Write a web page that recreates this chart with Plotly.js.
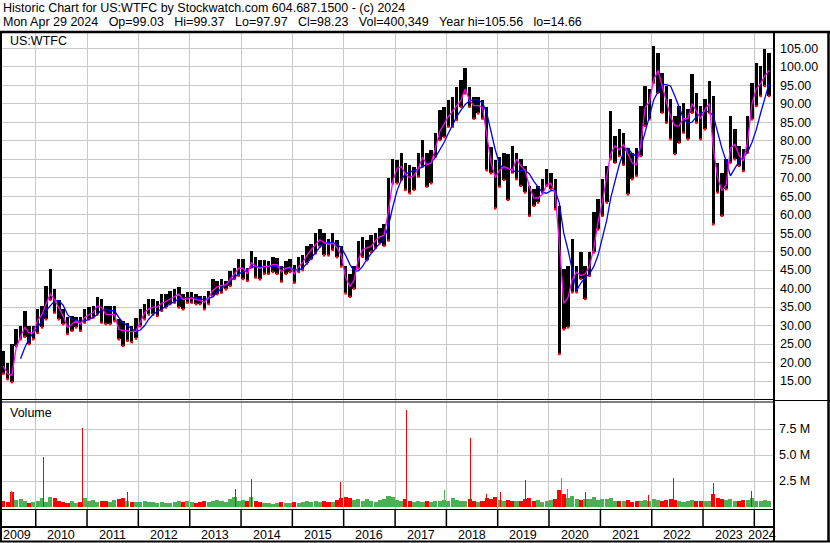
<!DOCTYPE html>
<html><head><meta charset="utf-8">
<script src="https://cdn.plot.ly/plotly-3.0.1.min.js"></script>
<style>html,body{margin:0;padding:0;background:#fff;}#chart{width:830px;height:543px;}</style>
</head><body><div id="chart"></div>
<script>
// ---- data (monthly, May 2009 .. Apr 2024) ----
const firstYear = 2009, firstMonth = 5;
const priceHigh = [23,20,25,29,30,34,30,30,
 34.4,35.3,40.7,45.2,40,37,34.4,32.2,32.6,32.2,32.2,34.4,
 34.9,35.3,37.6,37.1,35.3,35.3,35.3,31.7,31.2,30.8,30,32,
 34.5,35.8,37.1,37.1,36.7,38.5,38.5,39.4,39.8,40.3,38.5,39,
 39,38.5,38,38,39.4,42.6,42.1,42.6,42.1,44.8,45.7,48,
 48,45.7,50.2,48.6,47.7,47.7,47.5,48.5,48.2,46,47.5,48,
 46.5,48.6,49,51.5,52,55,56,55,53.5,55,53.2,51.4,
 46,44,46,53,54,53.2,54.5,55,56.3,57.5,70,75,
 74.8,76.6,73.9,73.4,73,76.6,80.2,76.6,77.5,82,88.3,89.2,
 91,91.9,94.6,96.4,99.8,94.6,91.9,91.9,91,89.2,78.4,74.8,
 75.7,76.6,76.4,78.6,76.8,75,73.2,67.8,66.9,67.8,69.6,72.3,
 71.4,69.6,62.4,45.3,46.2,53.4,46.2,49.8,46.2,49.8,60.6,64.2,
 69.6,73.2,88,81.3,83.1,82,78,76.8,78,89.4,94.8,93.9,
 105.6,103.8,98.4,94.8,91.2,86.7,89.4,90.3,88.5,98,93,89.4,
 91.2,96.2,92,74.1,71.4,75,86.7,83.1,78.6,77.7,86.7,95.7,
 101.1,100.2,104.7,103.8];
const priceLow = [17,15.5,14.7,24.5,26.3,27,25,26.3,
 28,29.5,31.7,37,33.5,31.7,30.4,27.7,28.6,29.5,28.6,30.8,
 31.7,32.2,33,30.8,30.4,30.4,31.2,26.3,24.5,25.9,25.5,26.5,
 29.8,31.7,33,33,32.6,34,34.9,35.8,36.2,34.9,34.4,36.2,
 36.2,35.8,35.8,34.4,35.8,38,38.5,38.9,39.8,40.7,42.6,43.5,
 42.6,42.1,45.7,43,42.5,44,44,44.5,44,41.9,44,44.5,
 41.6,44.5,45,46.8,48,49.5,51.4,49,49,50.5,48.5,46,
 38.7,37.8,40,45.5,48.6,47.7,50,51,52.3,51.6,53,68.5,
 68.5,69.4,66.7,65.8,66.7,70.3,73,67.6,68.5,75.7,80.2,81,
 83.8,83.8,85.6,89.2,92.8,89.2,86,87.4,86,72,71.2,61.7,
 67.6,69.4,64,71.4,69.6,67.8,66,59.7,62.4,63.3,66,67.8,
 66.9,61.5,22.3,29,29.5,39,39,42.6,37.2,43.5,49.8,56,
 59.7,63.3,75,74.1,75.9,73.5,65.5,69.6,70.5,75.9,84,85.8,
 95.7,93,87.6,84.9,80.4,76.4,79.5,82.2,80.4,87.6,84.9,80.4,
 83.1,87.6,57.4,66,59.7,66.9,74.1,75,73.2,71.8,76.8,85.8,
 89.4,92.1,94.8,92.1];
const maShort = [19,17,16.5,24,27,29.5,28,28,
 31.5,33,35.8,38.5,37,34.9,32.6,29.5,30.4,31.2,30.4,32.2,
 33,33.5,35.3,34.9,33,33,33,29,28.6,28.6,28.3,28.5,
 31.2,33.5,34.5,35,35,36,36.5,37.2,38,38.5,37,37.2,
 37.5,37,36.8,36.3,37.5,39.5,40.5,40.8,41,42.5,44,45.5,
 45.5,44,47,46,45.5,46,46,46.5,46.5,44.5,45.5,45.8,
 44,46,47,49,50.5,52,53.2,52.5,52,52.3,51,49,
 43,40.5,42.3,48,50.5,51,51.4,53,54,54.5,61,69,
 72.5,73,71,70,70.5,72.5,75.5,73.5,74,78,82.5,84.5,
 86.5,88,89.5,91,94,91,89.5,89.5,89,82,74,70,
 72,73,72.5,72,75,73.2,72,67.5,64.5,64.5,65.5,68,
 68.5,65.5,52,36,37.5,42.5,44.4,43.5,44,46,51,58,
 63.5,70,76.5,78.6,77.5,79,76.5,74,73.5,79,89,90.5,
 96.5,99,95,91,86.5,84,84,86,86,90,88,86,
 88.5,90,78,70,66.5,68,78,79,76,74.5,80,90,
 94,95.5,97.5,99];
const maLong = [null,null,null,null,21,24,26.5,28,
 29.5,31.2,34,35.5,36.7,36.7,35.5,33,31.7,31.5,31,31.2,
 31.7,32.2,33,34.4,34.4,34,34,32.2,30.8,29.9,29,28.3,
 28.8,30,31.7,33,33.8,34.5,35.2,36,36.7,37.2,37.5,37.6,
 37.6,37.5,37.2,37,37.3,37.8,39,40,41,42,43,44,
 44.5,45.2,45.8,46,45.8,45.8,46,46,46,45.8,45.6,45.5,
 45.2,45,45.5,46.8,48.3,49.8,51.2,52.3,52.5,52.5,52,51,
 49,46.5,44.8,44.8,46,48,49.5,51,52.3,53.5,57,62,
 66.5,69.5,71,71.5,71.8,72.3,73,73.6,74.2,75.5,77.5,79.5,
 82,84.5,86.5,88.3,89.8,90.8,91.2,91,90.2,87.5,82.5,77.5,
 73.5,72.3,72.5,72,71.5,72,72,71,69,67.5,66,65.8,
 66.5,66.5,63,55,50.5,45,39.5,41.5,43,44,46,49,
 53.5,58.5,64.5,69.5,73.5,77,78,76.5,75.8,78,82,86.5,
 91,93.5,95.3,95.2,94.8,92,89,86,84.7,85,86.5,87.4,
 88,87.8,86.7,82,78,74.5,70.5,72.5,74.5,75.5,77,79.5,
 83,87.5,91.5,95.5];
// typical weekly volume per month, millions of shares
const volume = [0.6,0.5,1.4,0.7,0.8,0.6,0.4,0.5,
 0.6,0.9,0.5,1.0,0.9,0.6,0.5,0.4,0.6,0.4,0.5,0.9,
 0.6,0.7,0.5,0.6,0.6,0.5,0.7,0.8,0.9,0.6,0.5,0.5,
 0.5,0.6,0.5,0.5,0.4,0.5,0.4,0.4,0.5,0.6,0.5,0.6,
 0.5,0.4,0.5,0.6,0.5,0.6,0.7,0.6,0.5,0.8,1.0,0.6,
 0.7,0.6,1.0,0.6,0.5,0.4,0.4,0.3,0.4,0.5,0.4,0.4,
 0.5,0.4,0.5,0.6,0.5,0.6,0.5,0.6,0.5,0.5,0.7,0.9,
 1.0,0.9,0.7,0.8,0.6,0.8,0.6,0.5,0.7,0.8,1.1,1.0,
 0.7,0.6,0.8,0.6,0.5,0.6,0.5,0.6,0.5,0.6,0.6,0.7,
 0.6,0.9,0.7,0.6,0.6,0.8,0.6,0.5,0.6,0.9,0.8,1.0,
 0.7,0.6,0.7,0.6,0.6,0.6,0.8,0.9,0.6,0.7,0.5,0.6,
 0.7,0.8,1.6,1.3,0.9,1.1,0.8,0.7,0.8,0.8,1.0,0.7,
 0.8,0.8,0.9,0.6,0.6,0.6,0.7,0.5,0.6,0.6,0.7,0.6,
 0.8,0.7,0.6,0.7,0.8,0.7,0.6,0.5,0.6,0.7,0.6,0.6,
 0.6,0.6,1.3,0.9,0.8,0.7,0.8,0.6,0.6,0.7,0.7,0.9,
 0.6,0.6,0.7,0.6];
// single-week volume spikes
const spikeDates = ['2009-07-15','2010-02-24','2010-11-30','2011-10-17','2013-11-24','2014-03-17','2015-12-12',
 '2017-03-26','2017-12-18','2018-06-19','2018-10-15','2019-01-18','2019-07-15','2020-04-02','2020-05-15',
 '2020-09-15','2021-12-10','2022-06-06','2023-03-13','2023-12-15'];
const spikeVols = [1.5,4.8,7.6,1.4,1.7,2.7,2.4,9.3,1.6,6.6,1.3,1.4,2.6,2.8,1.7,1.45,1.2,2.8,2.3,1.5];
const spikeUp = [true,false,false,false,false,false,false,false,true,false,false,false,false,true,true,false,false,false,false,false];
const yearLabels = ['2009','2010','2011','2012','2013','2014','2015','2016','2017','2018','2019','2020','2021','2022','2023','2024'];
const priceTicks = [15,20,25,30,35,40,45,50,55,60,65,70,75,80,85,90,95,100,105];
const volTicks = [2.5,5,7.5];
const volTickText = ['2.5 M','5.0 M','7.5 M'];
const headLine1 = 'Historic Chart for US:WTFC by Stockwatch.com 604.687.1500 - (c) 2024';
const headLine2 = ['Mon Apr 29 2024','Op=99.03','Hi=99.37','Lo=97.97','Cl=98.23','Vol=400,349','Year hi=105.56','lo=14.66'];

// ---- build ----
const months = priceHigh.map((_, i) => {
  const t = firstMonth - 1 + i;
  const y = firstYear + Math.floor(t / 12), m = t % 12 + 1;
  return y + '-' + String(m).padStart(2, '0') + '-15';
});
const W = 830, H = 543, L = 2, R = 56, T = 33, B = 34;
const pw = W - L - R, ph = H - T - B;
const px = x => (x - L) / pw;
const py = y => (H - B - y) / ph;
const FONT = 'Liberation Sans, Arial, sans-serif';
const FS = 12.5;
const DAY = 86400000;

const traces = [
  {type:'bar', x:months, base:priceLow, y:priceHigh.map((h,i)=>h-priceLow[i]), width:25*DAY,
   marker:{color:'#000000', line:{width:0}}, xaxis:'x', yaxis:'y', hoverinfo:'skip'},
  {type:'scatter', mode:'markers', x:months, y:priceLow, marker:{color:'#ff0000', size:2.5, symbol:'square'},
   xaxis:'x', yaxis:'y', hoverinfo:'skip'},
  {type:'scatter', mode:'lines', x:months, y:maLong, line:{color:'#0000ff', width:1.3}, xaxis:'x', yaxis:'y', connectgaps:false},
  {type:'scatter', mode:'lines', x:months, y:maShort, line:{color:'#ff00ff', width:1.3}, xaxis:'x', yaxis:'y'},
  {type:'bar', x:months, y:volume, width:29*DAY,
   marker:{color:volume.map((v,i)=> (i>0 && maShort[i] >= maShort[i-1]) ? '#4cb050' : '#ff0000'), line:{width:0}},
   xaxis:'x', yaxis:'y2', hoverinfo:'skip'},
  {type:'bar', x:spikeDates, y:spikeVols, width:7*DAY,
   marker:{color:spikeUp.map(u => u ? '#4cb050' : '#ff0000'), line:{width:0}}, xaxis:'x', yaxis:'y2', hoverinfo:'skip'}
];

const yearStarts = yearLabels.map(y => y + '-01-01');
const ink = '#000000';
const shapes = [];
const hline = (x0, x1, y, w) => shapes.push({type:'line', xref:'paper', yref:'paper', x0:px(x0), x1:px(x1), y0:py(y), y1:py(y), line:{color:ink, width:w}});
const vline = (x, y0, y1, w) => shapes.push({type:'line', xref:'paper', yref:'paper', x0:px(x), x1:px(x), y0:py(y0), y1:py(y1), line:{color:ink, width:w}});
hline(0, 830, 32, 2.5);
hline(0, 830, 541.5, 2);
vline(1, 32, 542, 2);
vline(828.5, 32, 542, 2.5);
vline(774, 32, 542, 2);
hline(0, 774, 399.5, 1);
hline(0, 774, 402, 1);
hline(774, 830, 400.5, 1);
hline(0, 774, 509.5, 1);
hline(0, 774, 527, 2);
yearStarts.slice(1).forEach(d => shapes.push({type:'line', xref:'x', yref:'paper', x0:d, x1:d, y0:py(509.5), y1:py(527), line:{color:ink, width:1.5}}));

const sp = '\u00a0\u00a0\u00a0';
const annotations = [
  {text:headLine1, x:px(1), y:py(8.5), xanchor:'left', yanchor:'middle'},
  {text:headLine2.join(sp), x:px(1), y:py(22), xanchor:'left', yanchor:'middle'},
  {text:'US:WTFC', x:px(8), y:py(41), xanchor:'left', yanchor:'middle'},
  {text:'Volume', x:px(8), y:py(413), xanchor:'left', yanchor:'middle'}
].map(a => Object.assign(a, {xref:'paper', yref:'paper', showarrow:false, font:{family:FONT, size:FS, color:ink}}));
const labelDates = yearLabels.map((y, i) => i === 0 ? '2009-08-18' : (i === yearLabels.length - 1 ? '2024-02-24' : y + '-07-02'));
yearLabels.forEach((y, i) => annotations.push({text:y, x:labelDates[i], xref:'x', y:py(534.5), yref:'paper',
  xanchor:'center', yanchor:'middle', showarrow:false, font:{family:FONT, size:FS, color:ink}}));

const layout = {
  width:W, height:H, margin:{l:L, r:R, t:T, b:B, pad:0},
  paper_bgcolor:'#ffffff', plot_bgcolor:'#ffffff', showlegend:false, barmode:'overlay', bargap:0,
  font:{family:FONT, size:FS, color:ink},
  xaxis:{type:'date', range:['2009-05-06','2024-05-20'], tickvals:yearStarts, showticklabels:false,
    showgrid:true, gridcolor:'#c8c8c8', gridwidth:1, ticks:'', zeroline:false, showline:false, fixedrange:true},
  yaxis:{domain:[py(401), 1], range:[9.59, 109.14], side:'right', tickvals:priceTicks, tickformat:'.2f',
    showgrid:true, gridcolor:'#c8c8c8', gridwidth:1, ticks:'', ticklabelstandoff:5, zeroline:false, showline:false,
    tickfont:{family:FONT, size:FS, color:ink}, fixedrange:true},
  yaxis2:{domain:[0, py(402)], range:[-0.19, 10.1], side:'right', anchor:'x', tickvals:volTicks, ticktext:volTickText,
    showgrid:true, gridcolor:'#c8c8c8', gridwidth:1, ticks:'', ticklabelstandoff:4, zeroline:false, showline:false,
    tickfont:{family:FONT, size:FS, color:ink}, fixedrange:true},
  shapes:shapes, annotations:annotations
};
Plotly.newPlot('chart', traces, layout, {staticPlot:true, displayModeBar:false});
</script></body></html>
